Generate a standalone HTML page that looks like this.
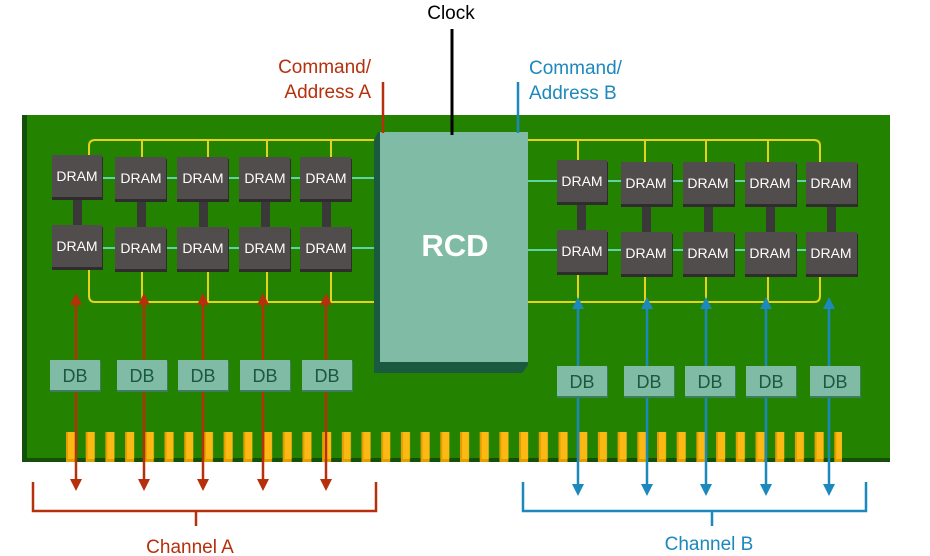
<!DOCTYPE html>
<html><head><meta charset="utf-8"><style>
html,body{margin:0;padding:0;background:#fff;}
svg{display:block;font-family:"Liberation Sans",sans-serif;}
</style></head><body>
<svg width="930" height="556" viewBox="0 0 930 556" xmlns="http://www.w3.org/2000/svg">
<defs>
<pattern id="fp" x="66" y="0" width="19.7" height="556" patternUnits="userSpaceOnUse">
<rect x="0" y="432" width="9" height="30" fill="#e39e00"/>
<rect x="2" y="432" width="7" height="27" fill="#fdb913"/>
</pattern>
</defs>
<!-- board -->
<rect x="22" y="115" width="868" height="347" fill="#14500a"/>
<rect x="27" y="115" width="863" height="343" fill="#238200"/>
<!-- fingers -->
<rect x="66" y="430" width="776" height="34" fill="url(#fp)"/>
<!-- yellow traces -->
<g fill="none" stroke="#e6d21a" stroke-width="2">
<path d="M89 155 V146 Q89 140 95 140 H378"/>
<path d="M142 140V157 M208 140V157 M267 140V157 M331 140V157"/>
<path d="M89 267 V296 Q89 302 95 302 H378"/>
<path d="M142 270V302 M208 270V302 M267 270V302 M331 270V302"/>
<path d="M528 140 H814 Q820 140 820 146 V162"/>
<path d="M578 140V160 M645 140V162 M706 140V162 M768 140V162"/>
<path d="M528 302 H814 Q820 302 820 296 V272"/>
<path d="M578 272V302 M645 272V302 M706 272V302 M768 272V302"/>
</g>
<!-- teal lines -->
<g stroke="#5fd3a8" stroke-width="2">
<path d="M100 178H378 M100 248H378"/>
<path d="M528 181H830 M528 250H830"/>
</g>
<!-- DRAM stacks -->
<g fill="#3a3838">
<rect x="73" y="195" width="9" height="32"/><rect x="137" y="198" width="9" height="32"/><rect x="199" y="198" width="9" height="32"/><rect x="261" y="198" width="9" height="32"/><rect x="322" y="198" width="9" height="32"/>
<rect x="577" y="201" width="9" height="32"/><rect x="642" y="203" width="9" height="32"/><rect x="704" y="203" width="9" height="32"/><rect x="766" y="203" width="9" height="32"/><rect x="827" y="203" width="9" height="32"/>
</g>
<g fill="#2e2c2c">
<rect x="52" y="157" width="51" height="43"/><rect x="115" y="159" width="52" height="43"/><rect x="177" y="159" width="52" height="43"/><rect x="239" y="159" width="52" height="43"/><rect x="300" y="159" width="52" height="43"/>
<rect x="52" y="227" width="51" height="43"/><rect x="115" y="229" width="52" height="43"/><rect x="177" y="229" width="52" height="43"/><rect x="239" y="229" width="52" height="43"/><rect x="300" y="229" width="52" height="43"/>
<rect x="557" y="162" width="51" height="43"/><rect x="621" y="164" width="52" height="43"/><rect x="683" y="164" width="52" height="43"/><rect x="745" y="164" width="52" height="43"/><rect x="806" y="164" width="52" height="43"/>
<rect x="557" y="232" width="51" height="43"/><rect x="621" y="234" width="52" height="43"/><rect x="683" y="234" width="52" height="43"/><rect x="745" y="234" width="52" height="43"/><rect x="806" y="234" width="52" height="43"/>
</g>
<g fill="#514d4d">
<rect x="52" y="155" width="50" height="42"/><rect x="115" y="157" width="51" height="42"/><rect x="177" y="157" width="51" height="42"/><rect x="239" y="157" width="51" height="42"/><rect x="300" y="157" width="51" height="42"/>
<rect x="52" y="225" width="50" height="42"/><rect x="115" y="227" width="51" height="42"/><rect x="177" y="227" width="51" height="42"/><rect x="239" y="227" width="51" height="42"/><rect x="300" y="227" width="51" height="42"/>
<rect x="557" y="160" width="50" height="42"/><rect x="621" y="162" width="51" height="42"/><rect x="683" y="162" width="51" height="42"/><rect x="745" y="162" width="51" height="42"/><rect x="806" y="162" width="51" height="42"/>
<rect x="557" y="230" width="50" height="42"/><rect x="621" y="232" width="51" height="42"/><rect x="683" y="232" width="51" height="42"/><rect x="745" y="232" width="51" height="42"/><rect x="806" y="232" width="51" height="42"/>
</g>
<g fill="#fff" font-size="14" text-anchor="middle">
<text x="77" y="181">DRAM</text><text x="141" y="183">DRAM</text><text x="203" y="183">DRAM</text><text x="265" y="183">DRAM</text><text x="326" y="183">DRAM</text>
<text x="77" y="251">DRAM</text><text x="141" y="253">DRAM</text><text x="203" y="253">DRAM</text><text x="265" y="253">DRAM</text><text x="326" y="253">DRAM</text>
<text x="582" y="186">DRAM</text><text x="646" y="188">DRAM</text><text x="708" y="188">DRAM</text><text x="770" y="188">DRAM</text><text x="831" y="188">DRAM</text>
<text x="582" y="256">DRAM</text><text x="646" y="258">DRAM</text><text x="708" y="258">DRAM</text><text x="770" y="258">DRAM</text><text x="831" y="258">DRAM</text>
</g>
<!-- RCD -->
<polygon points="378,132 374,140 374,373 522,373 528,365 528,132" fill="#1a5a40"/>
<rect x="380" y="132" width="148" height="230" fill="#80bba5"/>
<text x="455" y="256" fill="#fff" font-size="31" font-weight="bold" text-anchor="middle">RCD</text>
<!-- red arrows -->
<g stroke="#b5300b" stroke-width="2.5">
<path d="M76 302V482 M144 302V482 M203 302V482 M263 302V482 M326 302V482"/>
</g>
<g fill="#b5300b">
<polygon points="76,293 70,305 82,305"/><polygon points="144,293 138,305 150,305"/><polygon points="203,293 197,305 209,305"/><polygon points="263,293 257,305 269,305"/><polygon points="326,293 320,305 332,305"/>
<polygon points="76,491 70,479 82,479"/><polygon points="144,491 138,479 150,479"/><polygon points="203,491 197,479 209,479"/><polygon points="263,491 257,479 269,479"/><polygon points="326,491 320,479 332,479"/>
</g>
<!-- blue arrows -->
<g stroke="#1c88bd" stroke-width="2.5">
<path d="M578 306V486 M647 306V486 M706 306V486 M766 306V486 M829 306V486"/>
</g>
<g fill="#1c88bd">
<polygon points="578,297 572,309 584,309"/><polygon points="647,297 641,309 653,309"/><polygon points="706,297 700,309 712,309"/><polygon points="766,297 760,309 772,309"/><polygon points="829,297 823,309 835,309"/>
<polygon points="578,496 572,484 584,484"/><polygon points="647,496 641,484 653,484"/><polygon points="706,496 700,484 712,484"/><polygon points="766,496 760,484 772,484"/><polygon points="829,496 823,484 835,484"/>
</g>
<!-- DB -->
<g fill="#3d7d60">
<rect x="50" y="361" width="51" height="31"/><rect x="117" y="361" width="51" height="31"/><rect x="178" y="361" width="51" height="31"/><rect x="240" y="361" width="51" height="31"/><rect x="302" y="361" width="51" height="31"/>
<rect x="557" y="367" width="51" height="31"/><rect x="624" y="367" width="51" height="31"/><rect x="685" y="367" width="51" height="31"/><rect x="746" y="367" width="51" height="31"/><rect x="810" y="367" width="51" height="31"/>
</g>
<g fill="#80bba5">
<rect x="50" y="360" width="50" height="30"/><rect x="117" y="360" width="50" height="30"/><rect x="178" y="360" width="50" height="30"/><rect x="240" y="360" width="50" height="30"/><rect x="302" y="360" width="50" height="30"/>
<rect x="557" y="366" width="50" height="30"/><rect x="624" y="366" width="50" height="30"/><rect x="685" y="366" width="50" height="30"/><rect x="746" y="366" width="50" height="30"/><rect x="810" y="366" width="50" height="30"/>
</g>
<g fill="#1a5a40" font-size="18" text-anchor="middle">
<text x="75" y="382">DB</text><text x="142" y="382">DB</text><text x="203" y="382">DB</text><text x="265" y="382">DB</text><text x="327" y="382">DB</text>
<text x="582" y="388">DB</text><text x="649" y="388">DB</text><text x="710" y="388">DB</text><text x="771" y="388">DB</text><text x="835" y="388">DB</text>
</g>
<!-- brackets -->
<path d="M33 482V511H376V482 M196 511V526" fill="none" stroke="#b5300b" stroke-width="2.5"/>
<path d="M523 482V511H866V482 M712 511V526" fill="none" stroke="#1c88bd" stroke-width="2.5"/>
<text x="190" y="553" fill="#b5300b" font-size="19" text-anchor="middle">Channel A</text>
<text x="709" y="550" fill="#1c88bd" font-size="19" text-anchor="middle">Channel B</text>
<!-- top labels -->
<text x="451" y="19" fill="#000" font-size="19" text-anchor="middle">Clock</text>
<path d="M452 29V135" stroke="#000" stroke-width="3"/>
<text x="371" y="73" fill="#b5300b" font-size="19" text-anchor="end">Command/</text>
<text x="371" y="98" fill="#b5300b" font-size="19" text-anchor="end">Address A</text>
<path d="M383 82V133" stroke="#b5300b" stroke-width="2.5"/>
<text x="529" y="74" fill="#1c88bd" font-size="19">Command/</text>
<text x="529" y="99" fill="#1c88bd" font-size="19">Address B</text>
<path d="M518 82V133" stroke="#1c88bd" stroke-width="2.5"/>
</svg>
</body></html>
